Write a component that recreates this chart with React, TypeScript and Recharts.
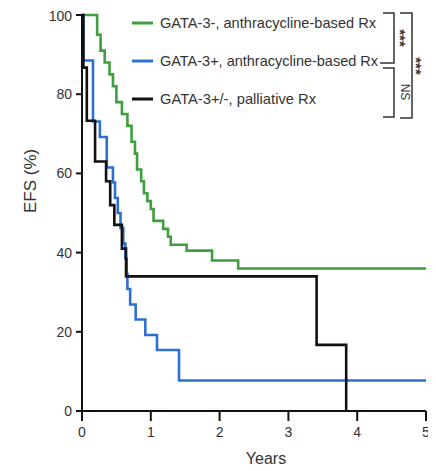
import { LineChart, Line, XAxis, YAxis, Legend } from "recharts";

// Kaplan-Meier style step data (years, EFS %)
const greenYears = [0, 0.22, 0.27, 0.33, 0.4, 0.45, 0.5, 0.58, 0.66, 0.72, 0.77, 0.8, 0.86, 0.9, 0.95, 1.0, 1.04, 1.18, 1.25, 1.29, 1.52, 1.89, 2.27, 5];
const greenEfs = [100, 95, 91, 88, 85, 82, 78, 75, 72, 68, 65, 61, 58, 55, 53, 51, 48, 46, 44, 42, 40.5, 38, 36, 36];

const blueYears = [0, 0.02, 0.16, 0.26, 0.36, 0.45, 0.48, 0.52, 0.56, 0.6, 0.63, 0.65, 0.66, 0.7, 0.78, 0.92, 1.09, 1.41, 5];
const blueEfs = [100, 88.5, 73.1, 69.2, 61.5, 57.7, 53.8, 50, 46.2, 42.3, 38.5, 34.6, 30.8, 26.9, 23.1, 19.2, 15.4, 7.7, 7.7];

const blackYears = [0, 0.02, 0.07, 0.19, 0.35, 0.41, 0.47, 0.58, 0.64, 3.41, 3.84];
const blackEfs = [100, 86.7, 73.3, 63, 58, 52, 47, 41, 34, 16.7, 0];

const xTicks = [0, 1, 2, 3, 4, 5];
const yTicks = [0, 20, 40, 60, 80, 100];

const SERIES = [
  { name: "GATA-3-, anthracycline-based Rx", color: "#3d9f3d", years: greenYears, efs: greenEfs, width: 216 },
  { name: "GATA-3+, anthracycline-based Rx", color: "#2e6fd3", years: blueYears, efs: blueEfs, width: 218 },
  { name: "GATA-3+/-, palliative Rx", color: "#111111", years: blackYears, efs: blackEfs, width: 156 },
];

const FONT = "'Liberation Sans', Arial, sans-serif";
const TEXT = "#333";

function toRows(years: number[], efs: number[]) {
  return years.map((t, i) => ({ t, v: efs[i] }));
}

function LegendBox() {
  const rowsY = [15, 53, 91];
  return (
    <svg width={430} height={125} style={{ display: "block" }}>
      {SERIES.map((s, i) => (
        <g key={s.name}>
          <line x1={124} x2={145} y1={rowsY[i]} y2={rowsY[i]} stroke={s.color} strokeWidth={3} />
          <text
            x={152}
            y={rowsY[i] + 5}
            fontSize={15}
            fontFamily={FONT}
            fill={TEXT}
            textLength={s.width}
            lengthAdjust="spacingAndGlyphs"
          >
            {s.name}
          </text>
        </g>
      ))}
      {/* comparison brackets */}
      <g fill="none" stroke="#333" strokeWidth={1.5}>
        <polyline points="375,5 386,5 386,55 372,55" />
        <polyline points="375,60 386,60 386,109 375,109" />
        <polyline points="392,5 404,5 404,110 392,110" />
      </g>
      <text transform="translate(387,30) rotate(90)" textAnchor="middle" fontSize={15} fontWeight="bold" fontFamily={FONT} fill={TEXT}>***</text>
      <text transform="translate(393,84) rotate(90)" textAnchor="middle" fontSize={12} fontFamily={FONT} fill={TEXT}>NS</text>
      <text transform="translate(403,58) rotate(90)" textAnchor="middle" fontSize={15} fontWeight="bold" fontFamily={FONT} fill={TEXT}>***</text>
    </svg>
  );
}

export default function App() {
  return (
    <LineChart width={430} height={463} margin={{ top: 7, right: 12, bottom: 28, left: 0 }}>
      <XAxis
        type="number"
        dataKey="t"
        domain={[0, 5]}
        ticks={xTicks}
        allowDuplicatedCategory={false}
        axisLine={{ stroke: "#111", strokeWidth: 2 }}
        tickLine={{ stroke: "#111", strokeWidth: 2 }}
        tickSize={10}
        tickMargin={6}
        tick={{ fill: TEXT, fontSize: 14, fontFamily: FONT }}
        height={32}
        label={{ value: "Years", position: "insideBottom", offset: -21, dx: 12, fill: TEXT, fontSize: 16, fontFamily: FONT }}
      />
      <YAxis
        type="number"
        domain={[0, 100]}
        ticks={yTicks}
        width={74}
        axisLine={{ stroke: "#111", strokeWidth: 2 }}
        tickLine={{ stroke: "#111", strokeWidth: 2 }}
        tickSize={6}
        tickMargin={4}
        tick={{ fill: TEXT, fontSize: 14, fontFamily: FONT }}
        label={{ value: "EFS (%)", angle: -90, position: "insideLeft", offset: 22, fill: TEXT, fontSize: 17, fontFamily: FONT }}
      />
      <Legend
        layout="horizontal"
        verticalAlign="middle"
        align="center"
        wrapperStyle={{ top: 0, left: 0, width: 430, height: 125 }}
        content={() => <LegendBox />}
      />
      {SERIES.map((s) => (
        <Line
          key={s.name}
          name={s.name}
          data={toRows(s.years, s.efs)}
          dataKey="v"
          type="stepAfter"
          stroke={s.color}
          strokeWidth={2.6}
          dot={false}
          isAnimationActive={false}
        />
      ))}
    </LineChart>
  );
}
